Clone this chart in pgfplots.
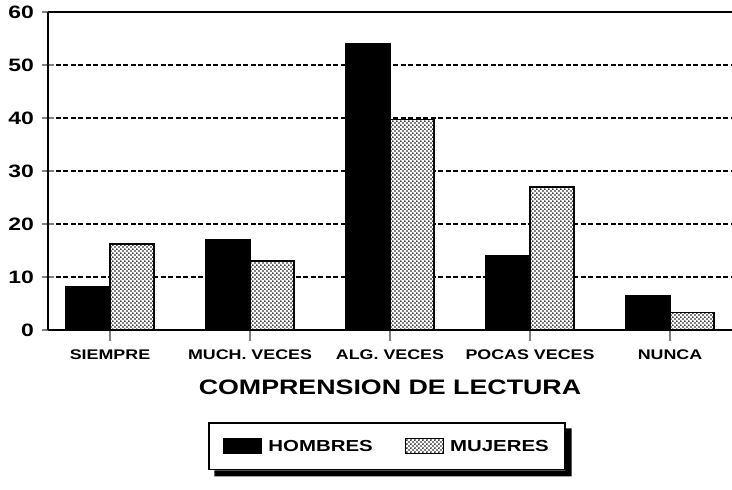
\documentclass[border=0pt]{standalone}
\usepackage{pgfplots}
\pgfplotsset{compat=1.18}
\usepackage{fontspec}
\setmainfont{Liberation Sans}
\newfontfamily\widefont[FakeStretch=1.28]{Liberation Sans}
\usetikzlibrary{patterns.meta}
\tikzdeclarepattern{
  name=sparsedots,
  type=uncolored,
  bottom left={(0bp,0bp)},
  top right={(4.4bp,4.4bp)},
  tile size={(4.4bp,4.4bp)},
  code={
    \pgfpathcircle{\pgfpoint{1.1bp}{1.1bp}}{1.05bp}
    \pgfpathcircle{\pgfpoint{3.3bp}{3.3bp}}{1.05bp}
    \pgfusepath{fill}
  }
}
\pgfplotstableread{
x hombres mujeres
0 8.2  16.2
1 17.0 13.0
2 54.0 39.7
3 14.0 27.0
4 6.5  3.3
}\datatable
\begin{document}
\begin{tikzpicture}
\path[use as bounding box] (0,0) rectangle (732bp,490bp);
\begin{axis}[
  at={(48bp,160bp)}, anchor=south west,
  scale only axis, width=684bp, height=318bp,
  xmin=-0.443, xmax=4.443, ymin=0, ymax=60,
  axis x line=box, axis y line=left,
  axis line style={-, line width=2.2bp},
  ytick={0,10,...,60},
  xtick={0,1,2,3,4},
  xticklabels={SIEMPRE, MUCH. VECES, ALG. VECES, POCAS VECES, NUNCA},
  xtick pos=bottom,
  ytick pos=left,
  xtick align=outside,
  ytick align=center,
  major tick length=11bp,
  x tick style={line width=1.5bp},
  y tick style={line width=2bp},
  /pgf/number format/assume math mode=true,
  yticklabel style={font=\widefont\bfseries\fontsize{18}{18}\selectfont, anchor=east, xshift=-5bp},
  xticklabel style={font=\widefont\bfseries\fontsize{14}{14}\selectfont, anchor=north, yshift=-5bp},
  ymajorgrids,
  grid style={line width=1.4bp, black, dash pattern=on 5bp off 2.5bp},
  xlabel={COMPRENSION DE LECTURA},
  xlabel style={font=\widefont\bfseries\fontsize{21}{21}\selectfont, at={(axis description cs:0.5,-0.18)}, anchor=center},
  ybar=0pt, bar width=44bp,
  legend columns=2,
  legend style={at={(axis description cs:0.4956,-0.366)}, anchor=center, name=leg,
    draw=black, line width=1.6bp, fill=white,
    inner xsep=14bp, inner ysep=15bp,
    font=\widefont\bfseries\fontsize{16}{16}\selectfont,
    /tikz/every even column/.append style={column sep=30bp}},
  legend image code/.code={\draw[#1, line width=1bp] (0bp,-7.5bp) rectangle (38bp,7.5bp); \path (42bp,0bp);},
  clip=false,
]
\addplot[fill=black, draw=black, line width=1.5bp] table[x=x, y=hombres] {\datatable};
\addlegendentry{HOMBRES}
\addplot[fill=white, draw=black, line width=1.8bp, postaction={pattern=sparsedots, pattern color=black}] table[x=x, y=mujeres] {\datatable};
\addlegendentry{MUJERES}
\end{axis}
\fill[black] ([yshift=-6bp]leg.north east) -- ++(6bp,0) -- ([xshift=6bp,yshift=-6bp]leg.south east)
  -- ([xshift=6bp,yshift=-6bp]leg.south west) -- ([xshift=6bp]leg.south west) -- (leg.south east) -- cycle;
\end{tikzpicture}
\end{document}
